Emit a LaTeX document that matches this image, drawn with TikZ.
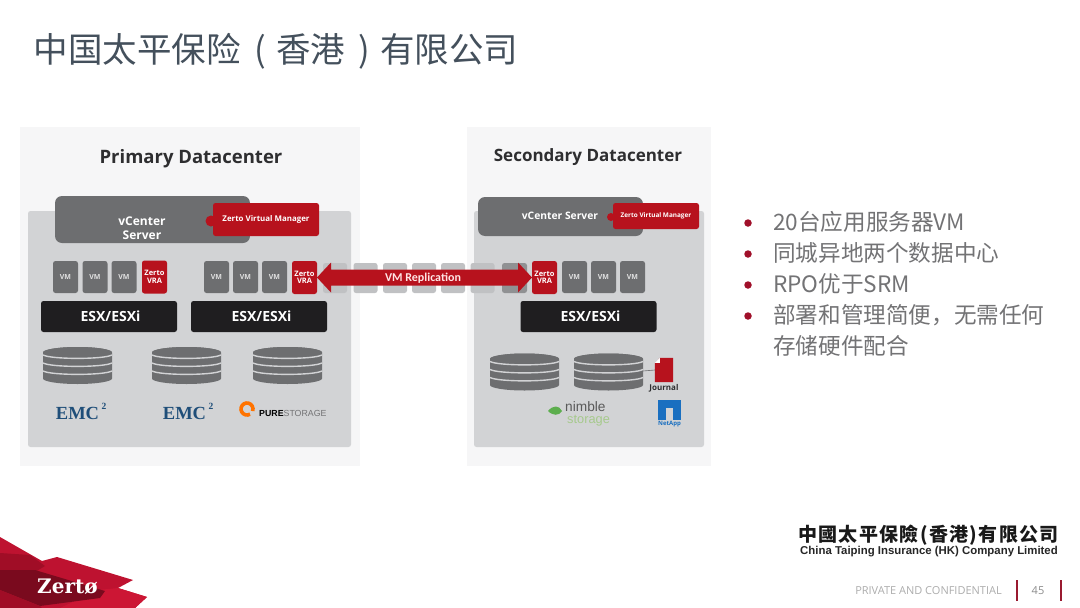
\documentclass[tikz,border=0pt]{standalone}
\usepackage{fontspec}
\setmainfont{Open Sans}
\newfontfamily\cjk{Noto Sans CJK SC}
\newfontfamily\cjkwide[LetterSpace=7]{Noto Sans CJK SC}
\newfontfamily\armo{Liberation Sans}
\newfontfamily\tms{Liberation Serif}
\newfontfamily\dvs{DejaVu Serif}
\newfontfamily\carl{Carlito}
\newcommand{\fsz}[1]{\fontsize{#1}{#1}\selectfont}
\definecolor{panelc}{HTML}{F6F6F7}
\definecolor{innerc}{HTML}{D2D3D5}
\definecolor{vmc}{HTML}{6D6E70}
\definecolor{fadec}{HTML}{C0C1C3}
\definecolor{zred}{HTML}{B7121D}
\definecolor{esxc}{HTML}{1F1E20}
\definecolor{titlec}{HTML}{44505C}
\definecolor{bodyc}{HTML}{737375}
\definecolor{emcc}{HTML}{1F4E79}
\definecolor{headc}{HTML}{2E2E30}
\definecolor{dotc}{HTML}{A0102A}
\definecolor{barc}{HTML}{9A1A30}
\definecolor{netc}{HTML}{1A6FC0}
\definecolor{nimg}{HTML}{A6C98C}
\tikzset{
  x=1pt,y=-1pt,
  box/.style={inner sep=0pt,outer sep=0pt,rounded corners=2.5pt},
  vmbox/.style={box,fill=vmc,text=black!12,font=\bfseries\fsz{7},minimum width=25pt,minimum height=32pt},
  fadebox/.style={box,fill=fadec,minimum width=25pt,minimum height=30pt},
  vrabox/.style={box,fill=zred,text=white,font=\bfseries\fsz{7.5},align=center,minimum width=25pt,minimum height=33pt},
  esxbox/.style={box,fill=esxc,text=white,font=\bfseries\fsz{14},minimum width=136pt,minimum height=31pt},
  vcbox/.style={box,rounded corners=7pt,fill=vmc},
  redtext/.style={inner sep=0pt,text=white,font=\bfseries},
  head/.style={inner sep=0pt,text=headc,font=\bfseries},
  bullet/.style={inner sep=0pt,anchor=west,text=bodyc,font=\cjk\fsz{22.6}},
  dot/.style={circle,inner sep=0pt,minimum size=7.5pt,fill=dotc},
  emc/.style={inner sep=0pt,text=emcc,font=\tms\bfseries\fsz{18.5}},
  emcsup/.style={inner sep=0pt,text=emcc,font=\tms\bfseries\fsz{9.5}},
  diskstack/.pic={
    \fill[vmc] (-34.5,-13) arc[start angle=180,end angle=360,x radius=34.5,y radius=5.5]
      -- (34.5,13) arc[start angle=0,end angle=180,x radius=34.5,y radius=5.5] -- cycle;
    \fill[vmc] (0,-13) ellipse[x radius=34.5,y radius=5.5];
    \foreach \yy in {-7,1,9}
      \draw[innerc,line width=1.4pt] (-34.5,\yy-3.5) .. controls (-26,\yy+1) and (26,\yy+1) .. (34.5,\yy-3.5);
  }
}
\begin{document}
\begin{tikzpicture}
\useasboundingbox (0,0) rectangle (1080,608);
\fill[white] (0,0) rectangle (1080,608);

% title
\node[inner sep=0pt,anchor=west,text=titlec,font=\cjk\fsz{34.5}] (title) at (33.5,51.5) {中国太平保险\hspace{14pt}(\hspace{10pt}香港\hspace{13pt})\hspace{10pt}有限公司};

% panels
\fill[panelc] (20,127) rectangle (360,466);
\fill[panelc] (467,127) rectangle (711,466);
\node[box,fill=innerc,minimum width=323pt,minimum height=236pt] (innerA) at (189.5,329) {};
\node[box,fill=innerc,minimum width=230pt,minimum height=236pt] (innerB) at (589,329) {};

\node[head,font=\bfseries\fsz{18.5}] (headA) at (191,159) {Primary Datacenter};
\node[head,font=\bfseries\fsz{17}] (headB) at (588,157) {Secondary Datacenter};

% faded replication boxes
\foreach \i/\xx in {1/335,2/365.5,3/395,4/424,5/453,6/482.5}
  \node[fadebox,minimum width=24pt] (fade\i) at (\xx,278) {};
\node[fadebox,fill=vmc!65!innerc,minimum width=25pt] (fade7) at (514.5,278) {};

% vCenter A
\node[vcbox,minimum width=195pt,minimum height=47pt] (vcA) at (152.5,219.5) {};
\node[inner sep=0pt,text=white,font=\bfseries\fsz{12},align=center] (vcAt) at (142,228) {vCenter\\[2pt]Server};
\fill[zred] (211,221) circle[radius=5.5];
\node[box,fill=zred,redtext,font=\bfseries\fsz{7.9},minimum width=106pt,minimum height=33pt] (zvmA) at (266,219.5) {Zerto Virtual Manager};

% vCenter B
\node[vcbox,minimum width=165pt,minimum height=39pt] (vcB) at (560.5,216.5) {};
\node[inner sep=0pt,text=white,font=\bfseries\fsz{10.3}] (vcBt) at (560,216) {vCenter Server};
\fill[zred] (611,217) circle[radius=4];
\node[box,fill=zred,redtext,font=\bfseries\fsz{6.4},minimum width=86pt,minimum height=26pt] (zvmB) at (656,216) {Zerto Virtual Manager};

% VMs
\node[vmbox] (a1) at (65.5,277) {VM};
\node[vmbox] (a2) at (95,277) {VM};
\node[vmbox] (a3) at (124,277) {VM};
\node[vrabox] (av) at (154.5,277) {Zerto\\VRA};
\node[vmbox] (b1) at (216.5,277) {VM};
\node[vmbox] (b2) at (245.5,277) {VM};
\node[vmbox] (b3) at (274.5,277) {VM};
\node[vrabox] (bv) at (304.5,277.5) {Zerto\\VRA};
\node[vrabox] (cv) at (544.5,277.5) {Zerto\\VRA};
\node[vmbox] (c1) at (574.5,277) {VM};
\node[vmbox] (c2) at (603.5,277) {VM};
\node[vmbox] (c3) at (632.5,277) {VM};

% replication arrow
\coordinate (arrL) at (bv.east);
\coordinate (arrR) at (cv.west);
\fill[zred] (arrL) -- ([xshift=14pt,yshift=15pt]arrL) -- ([xshift=14pt,yshift=8pt]arrL)
  -- ([xshift=-14pt,yshift=8pt]arrR) -- ([xshift=-14pt,yshift=15pt]arrR) -- (arrR)
  -- ([xshift=-14pt,yshift=-15pt]arrR) -- ([xshift=-14pt,yshift=-8pt]arrR)
  -- ([xshift=14pt,yshift=-8pt]arrL) -- ([xshift=14pt,yshift=-15pt]arrL) -- cycle;
\node[inner sep=0pt,text=white!90!red,font=\carl\bfseries\fsz{12}] (rep) at (423,278) {VM Replication};

% ESX
\node[esxbox] (ea) at (109,316.5) {\hspace*{3pt}ESX/ESXi};
\node[esxbox] (eb) at (259,316.5) {\hspace*{5pt}ESX/ESXi};
\node[esxbox] (ec) at (588.5,316.5) {\hspace*{4pt}ESX/ESXi};

% disks
\coordinate (d1) at (77.5,365.5);
\coordinate (d2) at (186.5,365.5);
\coordinate (d3) at (287.5,365.5);
\coordinate (d4) at (524.5,372);
\coordinate (d5) at (608.5,372);
\pic at (d1) {diskstack};
\pic at (d2) {diskstack};
\pic at (d3) {diskstack};
\pic at (d4) {diskstack};
\pic at (d5) {diskstack};

% journal
\coordinate (d5e) at (643,371);
\node[inner sep=0pt,minimum width=18pt,minimum height=24pt] (jdoc) at (664,370) {};
\draw[vmc,line width=.6pt] (d5e) -- (jdoc.west);
\fill[zred] (jdoc.north west) ++(5,0) -- (jdoc.north east) -- (jdoc.south east) -- (jdoc.south west) -- ++(0,-19) -- cycle;
\fill[white] (jdoc.north west) ++(0,5) -- ++(5,-5) -- ++(0,5) -- cycle;
\node[inner sep=0pt,text=headc,font=\bfseries\fsz{8}] (jt) at (664,388) {Journal};

% logos
\node[emc] (emcA) at (77.5,413) {EMC};
\node[emcsup] (emcA2) at (104,406) {2};
\node[emc] (emcB) at (184.5,413) {EMC};
\node[emcsup] (emcB2) at (211,406) {2};

\draw[orange!90!red,line width=3.6pt] (250,414.2) arc[start angle=60,end angle=380,radius=6];
\node[inner sep=0pt,anchor=west,text=bodyc,font=\armo\fsz{8.8}] (pure) at (259,413) {\textcolor{black}{\textbf{PURE}}STORAGE};

\fill[nimg!70!green!80!black] (548,411) .. controls (553,405) and (559,405) .. (562,411) .. controls (559,416) and (553,416) .. (548,411);
\node[inner sep=0pt,anchor=west,text=black!65,font=\armo\fsz{13.7}] (nim1) at (565,407) {nimble};
\node[inner sep=0pt,anchor=west,text=nimg,font=\armo\fsz{12.8}] (nim2) at (567,421) {storage};

\fill[netc] (658,400) rectangle (681,420);
\fill[innerc] (666,420) -- (666,408) -- (673,408) -- (673,420) -- cycle;
\node[inner sep=0pt,text=netc,font=\bfseries\fsz{6}] (netapp) at (669.5,424.5) {NetApp};

% bullets
\node[dot] (p1) at (748,223) {};
\node[bullet] (t1) at (773,222) {20台应用服务器VM};
\node[dot] (p2) at (748,254) {};
\node[bullet] (t2) at (773,253) {同城异地两个数据中心};
\node[dot] (p3) at (748,285) {};
\node[bullet] (t3) at (773,284) {RPO优于SRM};
\node[dot] (p4) at (748,316) {};
\node[bullet] (t4) at (773,315) {部署和管理简便，无需任何};
\node[bullet] (t5) at (773,346) {存储硬件配合};

% bottom-left logo
\definecolor{l1}{HTML}{BE1230}
\definecolor{l2}{HTML}{A00D26}
\definecolor{l3}{HTML}{7A0A1E}
\definecolor{l4}{HTML}{CC1634}
\fill[l1] (0,537) -- (42,561) -- (57,557) -- (133,580) -- (118,588) -- (147,597) -- (135,608) -- (0,608) -- cycle;
\fill[l4] (98,590) -- (118,588) -- (147,597) -- (135,608) -- (60,608) -- cycle;
\fill[l2] (0,553) -- (30,555) -- (45,566) -- (35,572) -- (0,570) -- cycle;
\fill[l3] (0,570) -- (35,570) -- (105,591) -- (100,598) -- (40,606) -- (0,590) -- cycle;
\fill[l2] (0,590) -- (40,606) -- (42,608) -- (0,608) -- cycle;
\node[inner sep=0pt,anchor=west,text=white,font=\dvs\bfseries\fsz{20}] (zlogo) at (37,587) {Zertø};

% footer
\node[inner sep=0pt,anchor=east,text=black!90,font=\cjkwide\bfseries\fsz{19}] (fcn) at (1059,535) {中國太平保險(香港)有限公司};
\node[inner sep=0pt,anchor=east,text=black!85,font=\armo\bfseries\fsz{11.4}] (fen) at (1058,552) {China Taiping Insurance (HK) Company Limited};
\node[inner sep=0pt,anchor=east,text=black!32,font=\fsz{11}] (fpc) at (1002,590.5) {PRIVATE AND CONFIDENTIAL};
\node[inner sep=0pt,text=black!45,font=\fsz{11}] (fnum) at (1038,590.5) {45};
\coordinate (bar1t) at (1017,580); \coordinate (bar1b) at (1017,601);
\coordinate (bar2t) at (1061,580); \coordinate (bar2b) at (1061,601);
\draw[barc,line width=1.6pt] (bar1t) -- (bar1b);
\draw[barc,line width=1.6pt] (bar2t) -- (bar2b);
\end{tikzpicture}
\end{document}
